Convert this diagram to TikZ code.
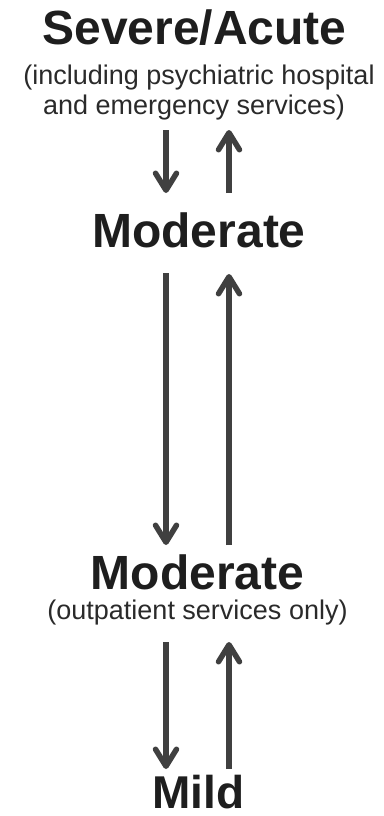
\documentclass[tikz,border=0pt]{standalone}
\usepackage{fontspec}
\setmainfont{Liberation Sans}
\usetikzlibrary{arrows.meta}
\definecolor{titlecol}{HTML}{1E1E1E}
\definecolor{subcol}{HTML}{2A2A2A}
\definecolor{arrcol}{HTML}{404040}
\begin{document}
\begin{tikzpicture}[x=1pt,y=-1pt,
  titletext/.style={anchor=base,inner sep=0pt,text=titlecol,font=\fontsize{48}{48}\selectfont\bfseries},
  subtext/.style={anchor=base,inner sep=0pt,text=subcol,font=\fontsize{27}{27}\selectfont},
  flow/.style={draw=arrcol,line width=5.5pt,-{Straight Barb[length=17pt,width=21pt,round]}}]
\useasboundingbox[fill=white] (0,0) rectangle (383,816);
% texts
\node[titletext] (sev) at (194.5,45) {Severe/Acute};
\node[subtext] (sevA) at (199,84.5) {(including psychiatric hospital};
\node[subtext] (sevB) at (194,114) {and emergency services)};
\node[titletext] (modA) at (199,247) {Moderate};
\node[titletext] (modB) at (197.5,589) {Moderate};
\node[subtext] (modBsub) at (197.5,619) {(outpatient services only)};
\node[titletext,text depth=0pt,font=\fontsize{46}{46}\selectfont\bfseries] (mild) at (198.5,808) {Mild};
% arrow end points
\coordinate (p1dT) at (166,130); \coordinate (p1dB) at (166,193);
\coordinate (p1uT) at (229,130); \coordinate (p1uB) at (229,193);
\coordinate (p2dT) at (166,273); \coordinate (p2dB) at (166,545);
\coordinate (p2uT) at (229,274); \coordinate (p2uB) at (229,545);
\coordinate (p3dT) at (166,642); \coordinate (p3dB) at (166,769);
\coordinate (p3uT) at (229,642); \coordinate (p3uB) at (229,769);
% arrows
\draw[flow] (p1dT) -- (p1dB);
\draw[flow] (p1uB) -- (p1uT);
\draw[flow] (p2dT) -- (p2dB);
\draw[flow] (p2uB) -- (p2uT);
\draw[flow] (p3dT) -- (p3dB);
\draw[flow] (p3uB) -- (p3uT);
\end{tikzpicture}
\end{document}
